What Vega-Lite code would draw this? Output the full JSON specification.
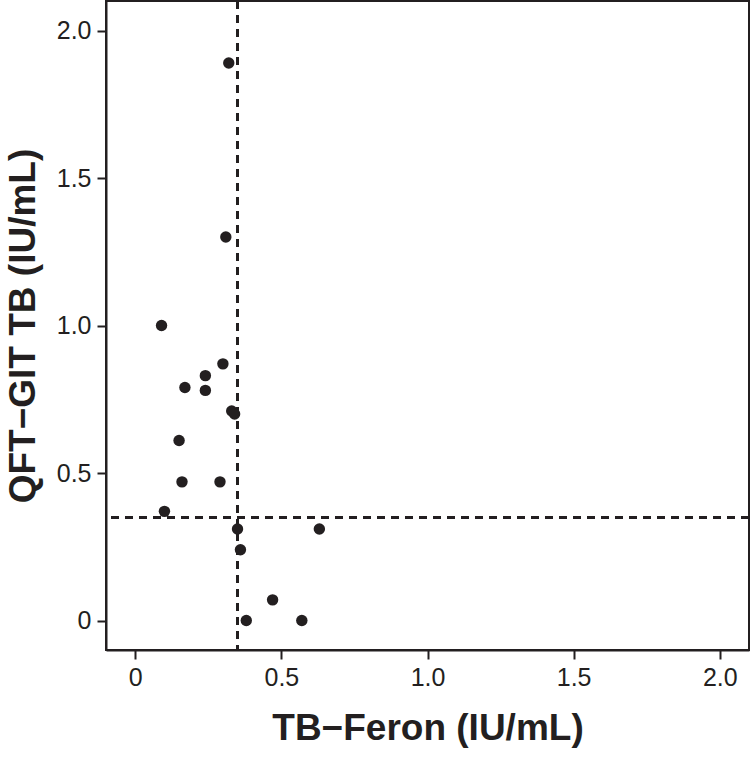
{
  "$schema": "https://vega.github.io/schema/vega-lite/v6.json",
  "width": 643,
  "height": 649,
  "autosize": {"type": "none"},
  "padding": {"left": 106, "top": 1, "right": 2, "bottom": 107},
  "background": "white",
  "config": {
    "view": {"stroke": "#231f20", "strokeWidth": 2},
    "axis": {
      "grid": false,
      "domainColor": "#231f20",
      "domainWidth": 2,
      "tickColor": "#231f20",
      "tickWidth": 2,
      "tickSize": 9,
      "labelFont": "Liberation Sans",
      "labelFontSize": 25,
      "labelColor": "#231f20",
      "labelPadding": 6,
      "titleFont": "Liberation Sans",
      "titleFontSize": 37,
      "titleFontWeight": "bold",
      "titleColor": "#231f20"
    }
  },
  "data": {
    "values": [
      {"tbferon": 0.32, "qft": 1.89},
      {"tbferon": 0.31, "qft": 1.30},
      {"tbferon": 0.09, "qft": 1.00},
      {"tbferon": 0.30, "qft": 0.87},
      {"tbferon": 0.24, "qft": 0.83},
      {"tbferon": 0.17, "qft": 0.79},
      {"tbferon": 0.24, "qft": 0.78},
      {"tbferon": 0.33, "qft": 0.71},
      {"tbferon": 0.34, "qft": 0.70},
      {"tbferon": 0.15, "qft": 0.61},
      {"tbferon": 0.16, "qft": 0.47},
      {"tbferon": 0.29, "qft": 0.47},
      {"tbferon": 0.10, "qft": 0.37},
      {"tbferon": 0.35, "qft": 0.31},
      {"tbferon": 0.63, "qft": 0.31},
      {"tbferon": 0.36, "qft": 0.24},
      {"tbferon": 0.47, "qft": 0.07},
      {"tbferon": 0.38, "qft": 0.00},
      {"tbferon": 0.57, "qft": 0.00}
    ]
  },
  "layer": [
    {
      "mark": {"type": "rule", "color": "#231f20", "strokeWidth": 2, "strokeDash": [8, 6]},
      "encoding": {"x": {"datum": 0.35, "type": "quantitative"}}
    },
    {
      "mark": {"type": "rule", "color": "#231f20", "strokeWidth": 2, "strokeDash": [8, 6]},
      "encoding": {"y": {"datum": 0.35, "type": "quantitative"}}
    },
    {
      "mark": {"type": "point", "filled": true, "opacity": 1, "size": 130, "color": "#231f20"},
      "encoding": {
        "x": {
          "field": "tbferon",
          "type": "quantitative",
          "scale": {"domain": [-0.1, 2.1], "nice": false, "zero": false},
          "axis": {
            "title": "TB−Feron (IU/mL)",
            "values": [0, 0.5, 1, 1.5, 2],
            "labelExpr": "datum.value == 0 ? '0' : format(datum.value, '.1f')",
            "titlePadding": 20
          }
        },
        "y": {
          "field": "qft",
          "type": "quantitative",
          "scale": {"domain": [-0.1, 2.1], "nice": false, "zero": false},
          "axis": {
            "title": "QFT−GIT TB (IU/mL)",
            "values": [0, 0.5, 1, 1.5, 2],
            "labelExpr": "datum.value == 0 ? '0' : format(datum.value, '.1f')",
            "titlePadding": 14
          }
        }
      }
    }
  ]
}
